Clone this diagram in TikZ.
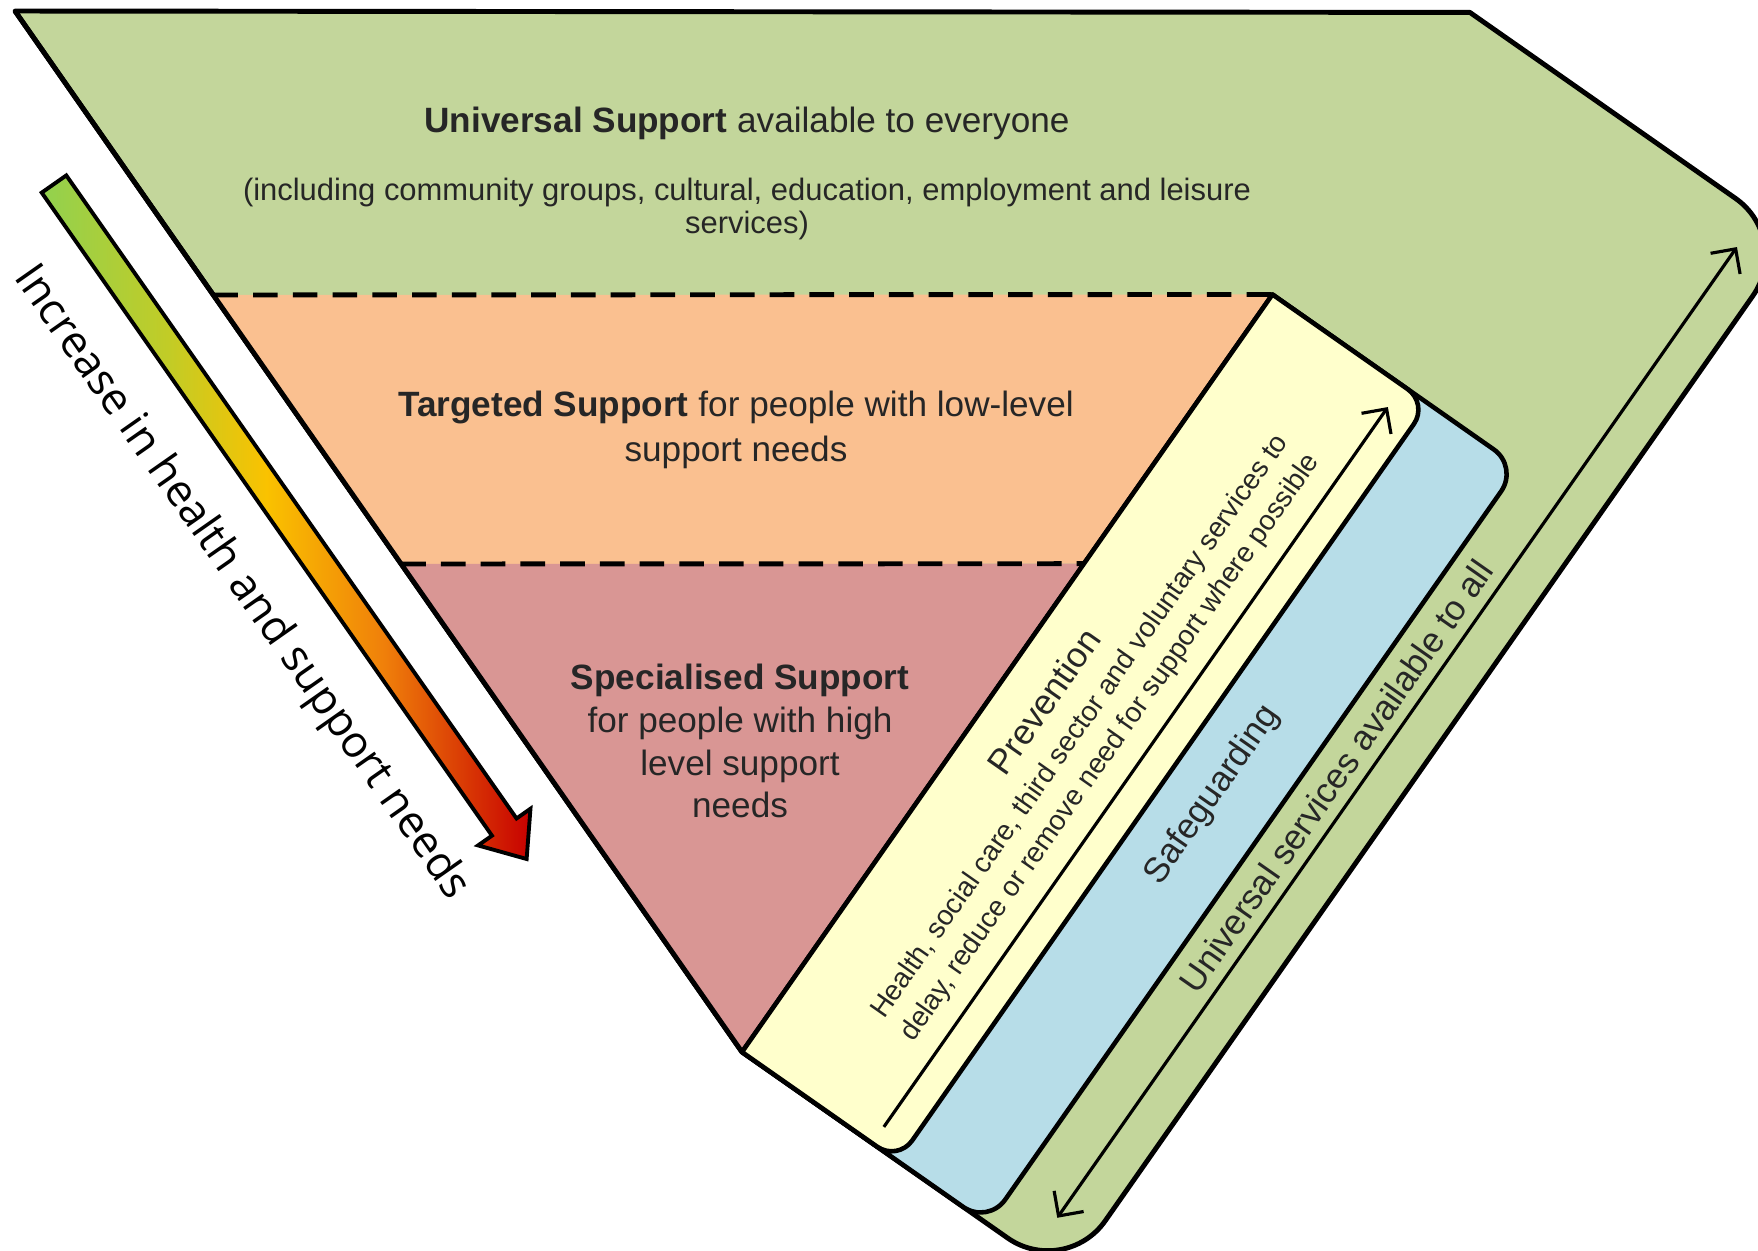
\documentclass[tikz,border=0pt]{standalone}
\usepackage{fontspec}
\setmainfont{Liberation Sans}
\newfontfamily\needsfont{Open Sans}
\usetikzlibrary{calc,arrows.meta}

\definecolor{univgreen}{RGB}{195,214,155}
\definecolor{targetorange}{RGB}{250,192,144}
\definecolor{specred}{RGB}{217,150,148}
\definecolor{prevyellow}{RGB}{255,255,204}
\definecolor{safeblue}{RGB}{183,221,232}
\definecolor{txtgray}{RGB}{38,38,38}
\pgfdeclarehorizontalshading{needsgrad}{100bp}{rgb(0bp)=(0.57,0.82,0.31); rgb(25bp)=(0.57,0.82,0.31); rgb(38bp)=(0.76,0.80,0.15); rgb(48bp)=(0.98,0.76,0.0); rgb(60bp)=(0.94,0.50,0.04); rgb(75bp)=(0.78,0.0,0.0); rgb(100bp)=(0.78,0.0,0.0)}

\begin{document}
\begin{tikzpicture}[x=0.01cm, y=-0.01cm,
    >={Straight Barb[length=1.8mm,width=3.6mm]},
    border/.style={draw=black, line width=1.4pt, line join=round},
    band/.style={draw=black, line width=1.3pt, line join=round},
    sep/.style={dash pattern=on 7pt off 4.3pt, line width=1.4pt},
    layer/.style={text=txtgray, align=center, font=\fontsize{10}{12.6}\selectfont},
    bandtext/.style={text=txtgray, rotate=55, align=center, font=\fontsize{10}{12}\selectfont}]
    \useasboundingbox (0,0) rectangle (1758,1250);
    \clip (0,0) rectangle (1758,1250);

    % points of the sloping band
    \begin{scope}[shift={(742,1052)}, x={(0.005736cm,0.008192cm)}, y={(0.008192cm,-0.005736cm)}]
        \coordinate (apex) at (0,0);
        \coordinate (gtl) at (1268,0);
        \coordinate (gtr) at (1268,394);
        \coordinate (gbr) at (0,394);
        \coordinate (ytop) at (924,0);
    \end{scope}
    \coordinate (tl) at (15,11);
    \coordinate (l1) at ($(tl)!0.2728!(apex)$);
    \coordinate (l2) at ($(tl)!0.5312!(apex)$);
    \coordinate (ym) at ($(apex)!0.6446!(ytop)$);

    \draw[border, fill=univgreen] (tl) -- (gtl) -- ($(gtl)!0.5!(gtr)$) [rounded corners=7mm] -- (gtr) -- (gbr) -- ($(gbr)!0.5!(apex)$) [sharp corners] -- (apex) -- cycle;
    \fill[targetorange] (l1) -- (ytop) -- (ym) -- (l2) -- cycle;
    \fill[specred] (l2) -- (ym) -- (apex) -- cycle;
    \draw[border] (tl) -- (apex);
    \draw[sep] (l1) -- (ytop);
    \draw[sep] (l2) -- (ym);

    \begin{scope}[shift={(742,1052)}, x={(0.005736cm,0.008192cm)}, y={(0.008192cm,-0.005736cm)}]
        \draw[band, fill=safeblue] (0,0) -- (924,0) -- (924,150) [rounded corners=3mm] -- (924,300) -- (0,300) -- (0,150) [sharp corners] -- cycle;
        \draw[band, fill=prevyellow] (0,0) -- (924,0) -- (924,95) [rounded corners=2.5mm] -- (924,190) -- (0,190) -- (0,95) [sharp corners] -- cycle;
        \coordinate (pa) at (20,159);
        \coordinate (pb) at (898,159);
        \coordinate (ua) at (45,353);
        \coordinate (ub) at (1229,353);
        \draw[->, line width=0.9pt] (pa) -- (pb);
        \draw[<->, line width=0.9pt] (ua) -- (ub);
        \node[bandtext] (prev) at (460,46) {Prevention};
        \node[bandtext, font=\fontsize{8}{10.5}\selectfont] (prevtxt) at (460,109) {Health, social care, third sector and voluntary services to\\delay, reduce or remove need for support where possible};
        \node[bandtext] (safe) at (480,238) {Safeguarding};
        \node[bandtext] (univall) at (566,328) {Universal services available to all};
    \end{scope}

    \node[layer] (univ) at (747,123) {\textbf{Universal Support} available to everyone};
    \node[layer, font=\fontsize{8.8}{9.4}\selectfont] (univsub) at (747,209) {(including community groups, cultural, education, employment and leisure\\services)};
    \node[layer] (target) at (736,430) {\textbf{Targeted Support} for people with low-level\\support needs};
    \node[layer, font=\fontsize{10}{12.2}\selectfont] (spec) at (740,741) {\textbf{Specialised Support}\\for people with high\\level support\\needs};

    \begin{scope}[shift={(54,184)}, rotate=-55]
        \shade[shading=needsgrad, draw=black, line width=1.1pt] (0,-15) -- (785,-15) -- (785,-32) -- (824,0) -- (785,32) -- (785,15) -- (0,15) -- cycle;
    \end{scope}
    \node[rotate=-55, font=\needsfont\fontsize{12.5}{15}\selectfont] (incr) at (241,583) {Increase in health and support needs};
\end{tikzpicture}
\end{document}
